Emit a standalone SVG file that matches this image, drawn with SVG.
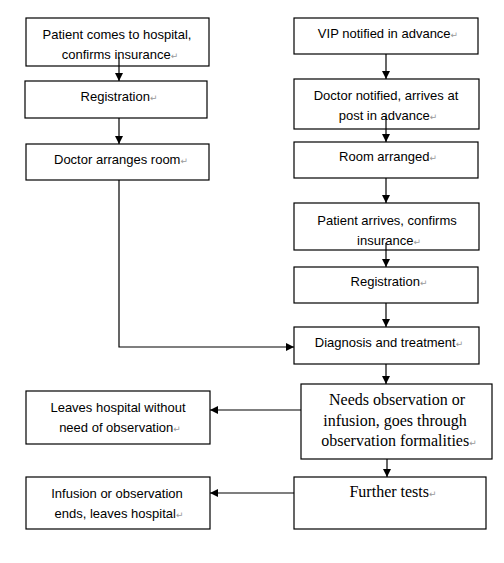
<svg xmlns="http://www.w3.org/2000/svg" width="504" height="563" viewBox="0 0 504 563">
<defs>
<style>
.box{fill:#fff;stroke:#000;stroke-width:1.2}
.s{font-family:"Liberation Sans",Arial,sans-serif;font-size:13px;fill:#000;text-anchor:middle}
.r{font-family:"Liberation Serif","Times New Roman",serif;font-size:16px;fill:#000;text-anchor:middle}
.m{font-family:"DejaVu Sans",sans-serif;font-size:9px;fill:#999}
.c{fill:none;stroke:#000;stroke-width:1.2}
</style>
<marker id="ah" viewBox="0 0 10 10" refX="10" refY="5" markerWidth="8" markerHeight="8" markerUnits="userSpaceOnUse" orient="auto">
<path d="M0,0 L10,5 L0,10 Z" fill="#000"/>
</marker>
</defs>
<rect width="504" height="563" fill="#fff"/>
<g id="n1"><rect class="box" x="26" y="18" width="183" height="48"/><text class="s" x="117" y="39">Patient comes to hospital,</text><text class="s" x="120" y="59">confirms insurance<tspan class="m">↵</tspan></text></g>
<g id="n2"><rect class="box" x="25" y="81" width="182" height="37"/><text class="s" x="119" y="101">Registration<tspan class="m">↵</tspan></text></g>
<g id="n3"><rect class="box" x="26" y="144" width="183" height="36"/><text class="s" x="121" y="164">Doctor arranges room<tspan class="m">↵</tspan></text></g>
<g id="n4"><rect class="box" x="294" y="18" width="184" height="36"/><text class="s" x="388" y="38">VIP notified in advance<tspan class="m">↵</tspan></text></g>
<g id="n5"><rect class="box" x="294" y="79" width="185" height="50"/><text class="s" x="386" y="100">Doctor notified, arrives at</text><text class="s" x="388" y="120">post in advance<tspan class="m">↵</tspan></text></g>
<g id="n6"><rect class="box" x="294" y="142" width="184" height="36"/><text class="s" x="388" y="161">Room arranged<tspan class="m">↵</tspan></text></g>
<g id="n7"><rect class="box" x="294" y="203" width="185" height="47"/><text class="s" x="387" y="225">Patient arrives, confirms</text><text class="s" x="389" y="245">insurance<tspan class="m">↵</tspan></text></g>
<g id="n8"><rect class="box" x="294" y="267" width="184" height="36"/><text class="s" x="389" y="286">Registration<tspan class="m">↵</tspan></text></g>
<g id="n9"><rect class="box" x="294" y="327" width="185" height="37"/><text class="s" x="389" y="347">Diagnosis and treatment<tspan class="m">↵</tspan></text></g>
<g id="n10"><rect class="box" x="301" y="384" width="191" height="75"/><text class="r" x="397" y="405">Needs observation or</text><text class="r" x="395" y="426">infusion, goes through</text><text class="r" x="399" y="446">observation formalities<tspan class="m">↵</tspan></text></g>
<g id="n11"><rect class="box" x="294" y="477" width="192" height="52"/><text class="r" x="393" y="497">Further tests<tspan class="m">↵</tspan></text></g>
<g id="n12"><rect class="box" x="26" y="391" width="184" height="53"/><text class="s" x="118" y="412">Leaves hospital without</text><text class="s" x="120" y="432">need of observation<tspan class="m">↵</tspan></text></g>
<g id="n13"><rect class="box" x="26" y="477" width="184" height="52"/><text class="s" x="117" y="498">Infusion or observation</text><text class="s" x="119" y="518">ends, leaves hospital<tspan class="m">↵</tspan></text></g>
<g id="connectors">
<path class="c" d="M119,57 V81" marker-end="url(#ah)"/>
<path class="c" d="M119,118 V144" marker-end="url(#ah)"/>
<path class="c" d="M119,180 V347 H294" marker-end="url(#ah)"/>
<path class="c" d="M386,54 V79" marker-end="url(#ah)"/>
<path class="c" d="M386,117 V142" marker-end="url(#ah)"/>
<path class="c" d="M386,178 V203" marker-end="url(#ah)"/>
<path class="c" d="M386,243 V267" marker-end="url(#ah)"/>
<path class="c" d="M386,303 V327" marker-end="url(#ah)"/>
<path class="c" d="M386,364 V384" marker-end="url(#ah)"/>
<path class="c" d="M387,459 V477" marker-end="url(#ah)"/>
<path class="c" d="M301,410 H210" marker-end="url(#ah)"/>
<path class="c" d="M294,493 H210" marker-end="url(#ah)"/>
</g>
</svg>
